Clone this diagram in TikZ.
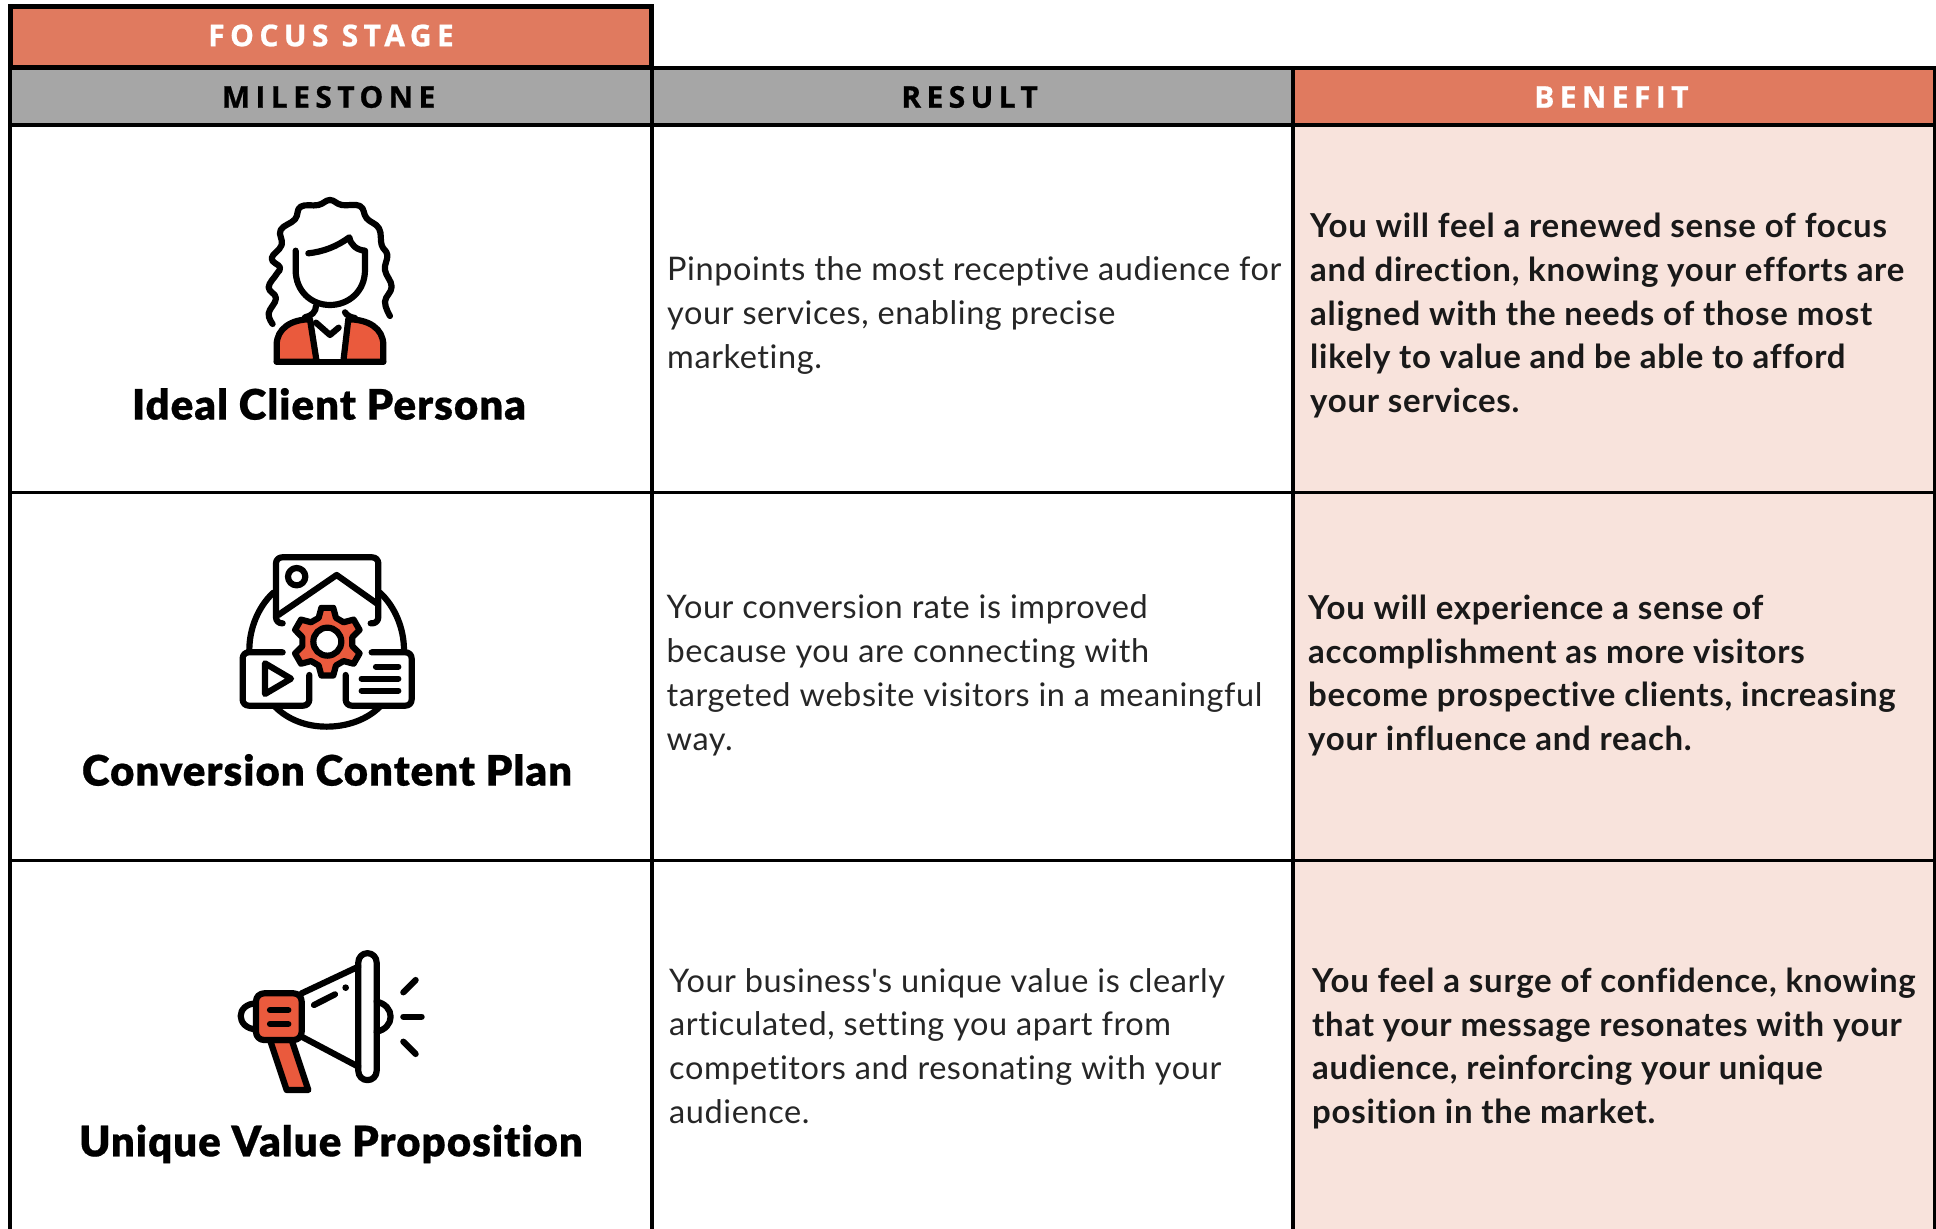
\documentclass[tikz,border=0pt]{standalone}
\usepackage{fontspec}
\setmainfont[Ligatures=NoCommon]{Lato}
\newfontfamily\hdfont[LetterSpace=18,FakeBold=0.8]{Open Sans}
\newfontfamily\ttlfont[LetterSpace=2.4,FakeBold=0.5,Ligatures=NoCommon]{Lato Black}
\newfontfamily\bdfont[LetterSpace=1.8,Ligatures=NoCommon]{Lato}
\newfontfamily\bnfont[LetterSpace=2.2,Ligatures=NoCommon]{Lato}
\definecolor{salmon}{HTML}{E07A5F}
\definecolor{greyhd}{HTML}{A6A6A6}
\definecolor{pinkcell}{HTML}{F8E3DC}
\definecolor{iconred}{HTML}{EA5A3D}
\tikzset{
  cellbox/.style={anchor=north west,inner sep=0pt,outer sep=0pt,draw=none},
  hdtext/.style={font=\hdfont\bfseries\fontsize{30}{33}\selectfont},
  titletext/.style={font=\ttlfont\fontsize{42}{48}\selectfont,text=black},
  bodytext/.style={anchor=west,align=left,inner sep=0pt,font=\bdfont\fontsize{32.5}{43.8}\selectfont,text=black!85},
  bentext/.style={anchor=west,align=left,inner sep=0pt,font=\bnfont\bfseries\fontsize{33}{43.8}\selectfont,text=black!90},
  ink/.style={draw=black,line width=6.2,line cap=round,line join=round},
  inkfill/.style={fill=iconred,draw=black,line width=6.2,line cap=round,line join=round},
  gridline/.style={draw=black,line width=2.6},
}
\begin{document}
\begin{tikzpicture}[x=1pt,y=-1pt]
\useasboundingbox (0,0) rectangle (1936,1229);
% fills
\node[cellbox,fill=salmon,minimum width=641,minimum height=60.5] (focus) at (10.5,6.5) {};
\node[cellbox,fill=greyhd,minimum width=642,minimum height=57] (mile) at (10,68) {};
\node[cellbox,fill=greyhd,minimum width=641,minimum height=57] (res) at (652,68) {};
\node[cellbox,fill=salmon,minimum width=643,minimum height=57] (ben) at (1293,68) {};
\node[cellbox,fill=pinkcell,minimum width=643,minimum height=368] (b1) at (1293,125) {};
\node[cellbox,fill=pinkcell,minimum width=643,minimum height=368] (b2) at (1293,493) {};
\node[cellbox,fill=pinkcell,minimum width=643,minimum height=369] (b3) at (1293,860) {};
% grid
\draw[black,line width=3.6] (654,68) -- (1936,68);
\draw[black,line width=3.8] (8,125) -- (1936,125);
\draw[black,line width=3.2] (10,68) -- (10,1229);
\draw[black,line width=3.2] (652,68) -- (652,1229);
\draw[black,line width=3.2] (1293,68) -- (1293,1229);
\draw[black,line width=3.2] (1934.5,68) -- (1934.5,1229);
\draw[gridline] (10,492.6) -- (1936,492.6);
\draw[gridline] (10,860.6) -- (1936,860.6);
\draw[black,line width=5] (focus.north west) rectangle (focus.south east);
% headers
\node[hdtext,text=white] (tfocus) at (331,35.5) {FOCUS STAGE};
\node[hdtext,text=black] (tmile) at (328.6,97) {MILESTONE};
\node[hdtext,text=black] (tres) at (969.6,97) {RESULT};
\node[hdtext,text=white] (tben) at (1611.4,97) {BENEFIT};
% titles
\node[titletext] (t1) at (329,404) {Ideal Client Persona};
\node[titletext] (t2) at (327,770) {Conversion Content Plan};
\node[titletext] (t3) at (331,1144) {Unique Value Proposition};
% results
\node[bodytext] (r1) at (667,315.5) {Pinpoints the most receptive audience for\\your services, enabling precise\\marketing.};
\node[bodytext] (r2) at (666.5,675.5) {Your conversion rate is improved\\because you are connecting with\\targeted website visitors in a meaningful\\way.};
\node[bodytext] (r3) at (669,1046) {Your business\symbol{39}s unique value is clearly\\articulated, setting you apart from\\competitors and resonating with your\\audience.};
% benefits
\node[bentext] (b1t) at (1310,315.5) {You will feel a renewed sense of focus\\and direction, knowing your efforts are\\aligned with the needs of those most\\likely to value and be able to afford\\your services.};
\node[bentext] (b2t) at (1308,675.5) {You will experience a sense of\\accomplishment as more visitors\\become prospective clients, increasing\\your influence and reach.};
\node[bentext] (b3t) at (1312,1048.5) {You feel a surge of confidence, knowing\\that your message resonates with your\\audience, reinforcing your unique\\position in the market.};
% persona icon
\begin{scope}[shift={(230,180)},x=0.3333pt,y=-0.3333pt]
\filldraw[inkfill] (140,545) -- (140,495) .. controls (140,445) and (185,418) .. (240,418) -- (260,545) -- cycle;
\filldraw[inkfill] (460,545) -- (460,495) .. controls (460,445) and (415,418) .. (355,418) -- (340,545) -- cycle;
\draw[ink] (140,545) -- (460,545);
\draw[ink] plot[smooth,tension=0.7] coordinates {(128,432) (116,400) (138,355) (116,322) (140,282) (150,262) (125,235) (155,195) (152,150) (195,118) (212,80) (265,75) (300,60) (335,75) (390,78) (410,115) (447,145) (455,195) (472,225) (465,270) (485,320) (465,365) (480,408)};
\draw[ink] (197,212) -- (197,270) .. controls (197,335) and (245,375) .. (300,375) .. controls (355,375) and (405,335) .. (405,270) -- (405,212) .. controls (380,210) and (362,195) .. (358,172) .. controls (320,200) and (280,215) .. (235,220);
\draw[ink] (258,378) .. controls (258,395) and (245,408) .. (225,412);
\draw[ink] (345,397) .. controls (350,405) and (360,412) .. (375,414);
\draw[ink] (258,428) -- (300,465) -- (326,443);
\end{scope}
% content plan icon
\begin{scope}[shift={(220,540)},x=0.3333pt,y=-0.3333pt]
\draw[ink] (88,330) .. controls (88,265) and (115,200) .. (160,158);
\draw[ink] (552,330) .. controls (552,265) and (525,200) .. (480,158);
\draw[ink] (165,500) .. controls (205,540) and (260,560) .. (320,560) .. controls (380,560) and (440,540) .. (480,500);
\draw[ink,rounded corners=6] (188,250) -- (168,250) -- (168,52) -- (475,52) -- (475,250) -- (452,250);
\draw[ink] (175,225) -- (350,105) -- (470,190);
\draw[ink] (230,110) circle[radius=26];
\begin{scope}[shift={(322,305)}]
\filldraw[inkfill] (20:103) \foreach \a in {30,90,...,330} { -- (\a-10:103) -- (\a+10:103) -- (\a+20:76) -- (\a+40:76)} -- cycle;
\filldraw[fill=white,draw=black,line width=6.2] (0,0) circle[radius=42];
\end{scope}
\draw[ink,rounded corners=6] (188,337) -- (68,337) -- (68,497) -- (268,497) -- (268,405);
\draw[ink] (135,370) -- (135,462) -- (213,416) -- cycle;
\draw[ink,rounded corners=6] (455,337) -- (575,337) -- (575,497) -- (377,497) -- (377,405);
\draw[ink] (468,380) -- (535,380);
\draw[ink] (425,416) -- (535,416);
\draw[ink] (425,452) -- (535,452);
\end{scope}
% megaphone icon
\begin{scope}[shift={(220,940)},x=0.3333pt,y=-0.3333pt]
\draw[ink] (110,190) .. controls (80,190) and (62,208) .. (62,228) .. controls (62,248) and (80,268) .. (110,268);
\filldraw[inkfill] (150,300) -- (200,450) -- (265,450) -- (215,300) -- cycle;
\filldraw[inkfill,rounded corners=8] (108,160) -- (245,160) -- (245,300) -- (108,300) -- cycle;
\draw[ink] (150,210) -- (205,210);
\draw[ink] (150,252) -- (205,252);
\draw[ink] (245,160) -- (415,80);
\draw[ink] (245,290) -- (415,380);
\draw[ink] (415,67) arc[start angle=180,end angle=360,radius=27.5] -- (470,393) arc[start angle=0,end angle=180,radius=27.5] -- cycle;
\draw[ink] (470,185) .. controls (495,190) and (512,208) .. (512,230) .. controls (512,252) and (495,270) .. (470,275);
\fill[black] (377,143) circle[radius=10];
\draw[ink] (282,195) -- (345,163);
\draw[ink] (550,157) -- (587,120);
\draw[ink] (550,230) -- (605,230);
\draw[ink] (550,305) -- (587,342);
\end{scope}
\end{tikzpicture}
\end{document}
